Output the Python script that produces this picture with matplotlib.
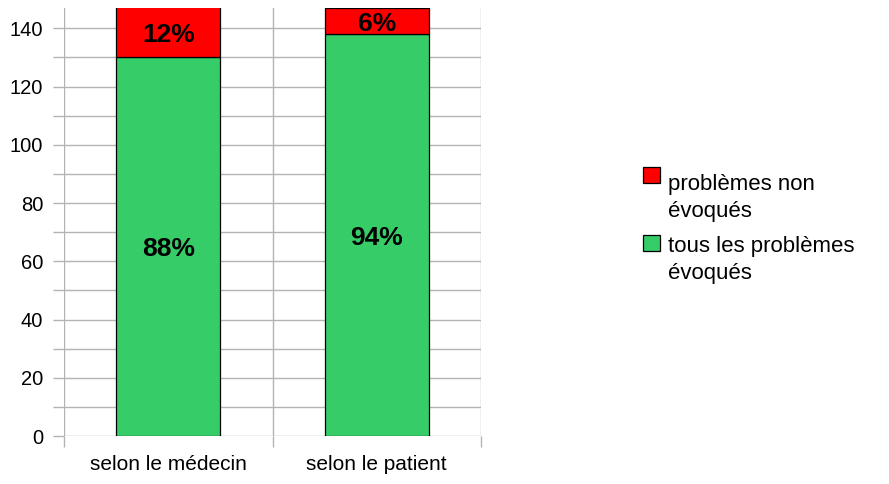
import matplotlib
matplotlib.use("Agg")
import matplotlib.pyplot as plt
from matplotlib.patches import Rectangle
from matplotlib.ticker import MultipleLocator, FixedLocator

categories = ["selon le médecin", "selon le patient"]
evoques = [130, 138]
non_evoques = [18, 9]
pct_evoques = ["88%", "94%"]
pct_non = ["12%", "6%"]
legend_labels = ["problèmes non\névoqués", "tous les problèmes\névoqués"]
y_max = 147

green = "#36CD69"
red = "#FF0000"
grid_c = "#B3B3B3"

plt.rcParams["font.family"] = ["Liberation Sans", "DejaVu Sans"]

fig = plt.figure(figsize=(8.89, 4.84), dpi=100)
ax = fig.add_axes([64/889, 1-436/484, (481-64)/889, (436-8)/484])

x = list(range(len(categories)))
ax.bar(x, evoques, width=0.5, color=green, edgecolor="black", linewidth=0.9, zorder=3)
ax.bar(x, non_evoques, bottom=evoques, width=0.5, color=red, edgecolor="black", linewidth=0.9, zorder=3)

ax.set_xlim(-0.5, len(categories) - 0.5)
ax.set_ylim(0, y_max)

for i in x:
    ax.text(i, evoques[i] / 2, pct_evoques[i], ha="center", va="center_baseline",
            fontsize=19, fontweight="bold", zorder=4)
    top = min(evoques[i] + non_evoques[i], y_max)
    ax.text(i, (evoques[i] + top) / 2, pct_non[i], ha="center", va="center_baseline",
            fontsize=19, fontweight="bold", zorder=4)

for s in ax.spines.values():
    s.set_visible(False)

ax.yaxis.set_major_locator(MultipleLocator(20))
ax.yaxis.set_minor_locator(MultipleLocator(10))
ax.set_xticks(x)
ax.set_xticklabels(categories, fontsize=15)
ax.xaxis.set_minor_locator(FixedLocator([-0.5 + k for k in range(len(categories) + 1)]))

ax.tick_params(axis="y", which="both", length=8, color=grid_c, width=1, labelsize=14.5, pad=7)
ax.tick_params(axis="x", which="major", length=0, pad=14)
ax.tick_params(axis="x", which="minor", length=8, color=grid_c, width=1)

ax.grid(True, axis="y", which="both", color=grid_c, linewidth=1, zorder=0)
ax.grid(True, axis="x", which="minor", color=grid_c, linewidth=1, zorder=0)
ax.set_axisbelow(True)

# legend (drawn line by line)
colors = [red, green]
patch_tops = [167, 235]
baselines = [[190, 217], [252, 279]]
for lab, c, py, bls in zip(legend_labels, colors, patch_tops, baselines):
    fig.add_artist(Rectangle((643/889, 1-(py+16)/484), 17/889, 16/484,
                             facecolor=c, edgecolor="black", linewidth=0.9,
                             transform=fig.transFigure))
    for line, bl in zip(lab.split("\n"), bls):
        fig.text(668/889, 1-bl/484, line, ha="left", va="baseline", fontsize=16)

fig.savefig("out.png", dpi=100)
